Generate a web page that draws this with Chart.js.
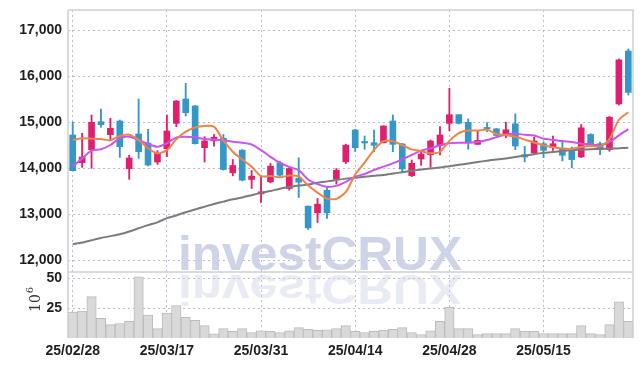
<!DOCTYPE html>
<html><head><meta charset="utf-8">
<script src="https://cdn.jsdelivr.net/npm/chart.js@4.4.1/dist/chart.umd.min.js"></script>
<style>html,body{margin:0;padding:0;background:#fff;}#wrap{width:642px;height:366px;}</style>
</head><body><div id="wrap"><canvas id="c" width="642" height="366"></canvas></div>
<script>
const dates = ['25/02/28','25/03/04','25/03/05','25/03/06','25/03/07','25/03/10','25/03/11','25/03/12','25/03/13','25/03/14',
'25/03/17','25/03/18','25/03/19','25/03/20','25/03/21','25/03/24','25/03/25','25/03/26','25/03/27','25/03/28',
'25/03/31','25/04/01','25/04/02','25/04/03','25/04/04','25/04/07','25/04/08','25/04/09','25/04/10','25/04/11',
'25/04/14','25/04/15','25/04/16','25/04/17','25/04/18','25/04/21','25/04/22','25/04/23','25/04/24','25/04/25',
'25/04/28','25/04/29','25/04/30','25/05/02','25/05/07','25/05/08','25/05/09','25/05/12','25/05/13','25/05/14',
'25/05/15','25/05/16','25/05/19','25/05/20','25/05/21','25/05/22','25/05/23','25/05/26','25/05/27','25/05/28'];
const shownDates = ['25/02/28','25/03/17','25/03/31','25/04/14','25/04/28','25/05/15'];
const openP  = [14728,14127,14410,15018,14736,15033,13996,14750,14554,14141,14431,14982,15511,15359,14453,14601,14659,13906,14399,13761,
13449,13710,14123,13565,13790,13181,13036,13529,13768,14145,14837,14570,14562,14562,15033,14533,13844,14207,14301,14496,
14982,15170,15004,14525,14870,14863,14741,14971,14302,14338,14539,14453,14417,14417,14251,14741,14539,14410,15403,16555];
const highP  = [15010,14765,15163,15293,15091,15054,14286,15511,14851,14390,15163,15480,15851,15370,14692,14739,14739,14196,14410,13957,
13833,14109,14160,14022,14232,13185,13348,13609,14000,14529,14850,14707,14837,14930,15163,14547,14185,14366,14620,14909,
15743,15170,15076,14815,14996,14870,15007,15187,14482,14683,14575,14705,14575,14467,14957,14755,14575,15130,16383,16598];
const lowP   = [13950,14025,14004,14900,14620,14243,13765,14221,14054,14090,14257,14910,15141,14530,14141,14486,13964,13841,13732,13565,
13261,13688,13833,13529,13370,12674,12826,12913,13659,14109,14370,14417,14366,14555,14366,13909,13822,14069,14025,14293,
14822,14967,14417,14520,14801,14700,14669,14410,14143,14323,14237,14395,14165,14014,14237,14482,14302,14374,15382,15598];
const closeP = [13953,14250,15004,14953,14873,14475,14228,14366,14076,14330,14815,15467,15214,14540,14598,14681,13978,14065,13746,13833,
13493,14051,13855,14000,13703,12710,13225,13036,13964,14507,14453,14555,14504,14924,14525,13989,14112,14315,14598,14728,
15170,14982,14569,14612,14860,14719,14842,14489,14251,14597,14395,14539,14287,14194,14885,14503,14417,15115,16361,15655];
const ma5 = [14620,14656,14649,14641,14612,14707,14736,14620,14440,14330,14400,14635,14800,14890,14924,
14910,14610,14365,14195,14040,13835,13835,13810,13848,13828,13630,13475,13345,13340,13490,
13870,14130,14405,14595,14595,14505,14415,14378,14330,14365,14600,14770,14825,14825,14845,
14752,14728,14690,14628,14565,14505,14460,14435,14428,14470,14490,14480,14635,15060,15225];
const ma20 = [14040,14220,14388,14417,14511,14656,14692,14620,14533,14475,14547,14678,14692,14678,14641,
14630,14616,14580,14558,14522,14399,14254,14123,14036,13964,13761,13659,13601,13623,13710,
13823,13880,13967,14040,14112,14199,14293,14388,14438,14504,14547,14562,14562,14576,14620,
14683,14741,14755,14734,14719,14647,14626,14597,14575,14539,14525,14503,14575,14719,14856];
const maLong = [12352,12390,12440,12490,12530,12570,12630,12700,12770,12830,12920,12980,13050,13110,13170,
13230,13280,13330,13370,13420,13470,13510,13560,13600,13630,13650,13690,13720,13750,13780,
13800,13820,13840,13860,13890,13920,13950,13980,14000,14020,14050,14080,14110,14140,14170,
14195,14220,14250,14280,14310,14340,14360,14380,14400,14410,14420,14425,14435,14440,14450];
const volume = [21.6,22.4,34.5,16.4,11.2,12.1,13.8,50.9,19.0,7.8,20.7,27.0,17.2,14.7,10.3,3.4,7.8,5.5,7.8,4.6,
6.0,5.5,4.6,6.0,8.6,7.2,6.3,6.9,7.8,10.3,5.5,4.6,5.5,6.3,7.2,8.6,4.6,2.9,6.0,13.8,
25.6,7.8,7.8,2.9,3.7,3.7,3.7,7.8,5.5,5.5,3.7,3.7,3.7,3.7,10.3,3.7,2.9,11.2,30.2,13.8];
const priceTicks = [12000,13000,14000,15000,16000,17000];
const volTicks = [25,50];

const UP = '#e21f6d', DOWN = '#3497c8';
const candleColors = openP.map((o,i)=> closeP[i] >= o ? UP : DOWN);
const bodies = openP.map((o,i)=>[o, closeP[i]]);
const wicks = lowP.map((l,i)=>[l, highP[i]]);

const TICKFONT = "'Liberation Sans', Arial, sans-serif";
const GRID = 'rgba(175,175,205,0.85)';

const deco = {
  id:'deco',
  beforeDatasetsDraw(chart){
    const ctx = chart.ctx, a = chart.chartArea;
    ctx.save();
    ctx.beginPath(); ctx.rect(a.left, a.top, a.right-a.left, a.bottom-a.top); ctx.clip();
    ctx.font = "bold 48px 'Liberation Sans', Arial, sans-serif";
    const t = 'investCRUX';
    const sx = 284 / ctx.measureText(t).width;
    ctx.fillStyle = 'rgb(206,211,231)';
    ctx.save(); ctx.translate(178, 270); ctx.scale(sx, 1); ctx.fillText(t, 0, 0); ctx.restore();
    ctx.save(); ctx.globalAlpha = 0.45; ctx.translate(178, 275); ctx.scale(sx, -0.9); ctx.fillText(t, 0, 0); ctx.restore();
    ctx.restore();
  },
  afterDraw(chart){
    const ctx = chart.ctx, a = chart.chartArea;
    const sep = chart.scales.y.bottom;
    ctx.save();
    ctx.strokeStyle = '#cfcfcf'; ctx.lineWidth = 1.5;
    ctx.beginPath();
    ctx.moveTo(a.left, a.top); ctx.lineTo(a.right, a.top); ctx.lineTo(a.right, a.bottom);
    ctx.moveTo(a.left, a.top); ctx.lineTo(a.left, a.bottom);
    ctx.moveTo(a.left, sep); ctx.lineTo(a.right, sep);
    ctx.stroke();
    ctx.translate(36, 312); ctx.rotate(-Math.PI/2);
    ctx.fillStyle = '#333';
    ctx.font = "14px 'DejaVu Serif', 'Liberation Serif', serif";
    ctx.textBaseline = 'middle';
    ctx.fillText('10', 0, 0);
    const w = ctx.measureText('10').width;
    ctx.font = "10px 'DejaVu Serif', 'Liberation Serif', serif";
    ctx.fillText('6', w + 1, -6);
    ctx.restore();
  }
};

const fitY = (s)=>{ s.width = 68; s.paddingTop = 0; s.paddingBottom = 0; };

new Chart(document.getElementById('c'), {
  data: {
    labels: dates,
    datasets: [
      {type:'line', label:'MA5', data: ma5, yAxisID:'y', borderColor:'#ee8448', borderWidth:2, pointRadius:0, tension:0.25, order:0},
      {type:'line', label:'MA20', data: ma20, yAxisID:'y', borderColor:'#c955ec', borderWidth:2, pointRadius:0, tension:0.25, order:0},
      {type:'line', label:'MA120', data: maLong, yAxisID:'y', borderColor:'#7b7b7b', borderWidth:2, pointRadius:0, tension:0.25, order:0},
      {type:'bar', label:'body', data: bodies, yAxisID:'y', backgroundColor: candleColors, barThickness:6, minBarLength:1.5, grouped:false, order:1},
      {type:'bar', label:'wick', data: wicks, yAxisID:'y', backgroundColor: candleColors, barThickness:1.2, grouped:false, order:2},
      {type:'bar', label:'volume', data: volume, yAxisID:'yv', backgroundColor:'#d9d9d9', borderColor:'#bcbcbc', borderWidth:1, barPercentage:1, categoryPercentage:1, grouped:false, order:3}
    ]
  },
  options: {
    responsive:false, animation:false,
    layout:{padding:{top:10, right:9, left:0, bottom:0}},
    plugins:{legend:{display:false}, tooltip:{enabled:false}},
    scales:{
      x:{
        type:'category', offset:true,
        grid:{offset:false, drawTicks:false, color:(c)=> (shownDates.includes(dates[c.index]) ? GRID : 'rgba(0,0,0,0)')},
        border:{display:false, dash:[2,3]},
        ticks:{autoSkip:false, maxRotation:0, padding:5, color:'#1e1e1e', font:{family:TICKFONT, size:14, weight:'bold'},
          callback:(v,i)=> shownDates.includes(dates[i]) ? dates[i] : ''},
        afterFit:(s)=>{ s.height = 28; }
      },
      yv:{
        type:'linear', position:'left', stack:'main', stackWeight:66, min:0, max:55, offset:false,
        afterBuildTicks:(s)=>{ s.ticks = volTicks.map(v=>({value:v})); },
        grid:{drawTicks:false, color:GRID},
        border:{display:false, dash:[2,3]},
        ticks:{padding:6, color:'#1e1e1e', font:{family:TICKFONT, size:14, weight:'bold'}},
        afterFit: fitY
      },
      y:{
        type:'linear', position:'left', stack:'main', stackWeight:262, min:11750, max:17446,
        afterBuildTicks:(s)=>{ s.ticks = priceTicks.map(v=>({value:v})); },
        grid:{drawTicks:false, color:GRID},
        border:{display:false, dash:[2,3]},
        ticks:{padding:6, color:'#1e1e1e', font:{family:TICKFONT, size:14, weight:'bold'},
          callback:(v)=> Number(v).toLocaleString('en-US')},
        afterFit: fitY
      }
    }
  },
  plugins:[deco]
});
</script></body></html>
